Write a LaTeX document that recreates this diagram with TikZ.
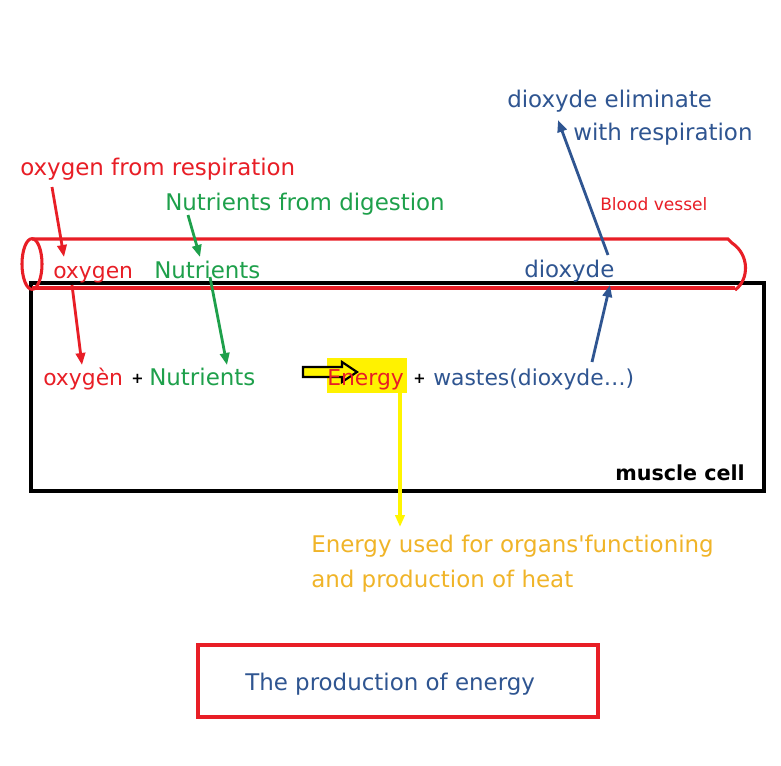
\documentclass[tikz,border=0pt]{standalone}
\usepackage{fontspec}
\setmainfont{DejaVu Sans}[Ligatures=TeXOff]
\usetikzlibrary{arrows.meta}
\definecolor{cred}{RGB}{232,30,38}
\definecolor{cgreen}{RGB}{30,160,75}
\definecolor{cblue}{RGB}{47,85,145}
\definecolor{corange}{RGB}{240,180,40}
\definecolor{cyel}{RGB}{255,245,0}
\begin{document}
\begin{tikzpicture}[x=0.75pt,y=-0.75pt,
  txt/.style={inner sep=0pt, anchor=base west, font=\fontsize{17.2}{20}\selectfont},
  txtb/.style={inner sep=0pt, anchor=base west, font=\fontsize{16.4}{20}\selectfont},
  small/.style={inner sep=0pt, anchor=base west, font=\fontsize{12.8}{15}\selectfont},
  plus/.style={inner sep=0pt, anchor=base west, font=\fontsize{11}{13}\selectfont\bfseries},
  arr/.style={line width=2.1pt, -{Triangle[length=9pt,width=7pt]}},
]
\useasboundingbox (0,0) rectangle (781,765);
\fill[white] (0,0) rectangle (781,765);
% muscle cell box
\draw[line width=2.4pt, black] (31,283) rectangle (764,491);
% blood vessel
\draw[cred, line width=2.3pt] (32,239) -- (728,239) -- (732,243)
  .. controls (750,255) and (749,280) .. (735,290);
\draw[cred, line width=2.3pt] (735,288) -- (32,288);
\draw[cred, line width=2.3pt] (32,264) ellipse [x radius=7.5pt, y radius=19pt];
% highlight and hollow arrow
\fill[yellow] (327,358) rectangle (407,393);
\draw[black, line width=1.6pt, fill=cyel] (303,367) -- (342,367) -- (342,362) -- (357,372)
  -- (342,382) -- (342,377) -- (303,377) -- cycle;
% texts
\node[txt, text=cred] (resp) at (20,175) {oxygen from respiration};
\node[txt, text=cgreen] (dig) at (165,210) {Nutrients from digestion};
\node[txt, text=cblue] (elim1) at (507,107) {dioxyde eliminate};
\node[txt, text=cblue] (elim2) at (573,140) {with respiration};
\node[small, text=cred] (bv) at (600,210) {Blood vessel};
\node[txtb, text=cred] (ox1) at (53,278) {oxygen};
\node[txt, text=cgreen] (nu1) at (154,278) {Nutrients};
\node[txt, text=cblue] (di1) at (524,277) {dioxyde};
\node[txtb, text=cred] (ox2) at (43,385) {oxygèn};
\node[plus] (p1) at (131,383) {+};
\node[txt, text=cgreen] (nu2) at (149,385) {Nutrients};
\node[txtb, text=cred] (en) at (327,385) {Energy};
\node[plus] (p2) at (413,383) {+};
\node[txtb, text=cblue] (wa) at (433,385) {wastes(dioxyde…)};
\node[txt, font=\fontsize{15.5}{18}\selectfont\bfseries] (mc) at (615,480) {muscle cell};
\node[txt, text=corange] (eu1) at (311,552) {Energy used for organs'functioning};
\node[txt, text=corange] (eu2) at (311,587) {and production of heat};
\draw[cred, line width=2.4pt] (198,645) rectangle (598,717);
\node[txt, text=cblue] (title) at (245,690) {The production of energy};
% arrow end points
\coordinate (a1s) at (52,187); \coordinate (a1e) at (64,257);
\coordinate (a2s) at (188,215); \coordinate (a2e) at (200,257);
\coordinate (a3s) at (72,285); \coordinate (a3e) at (82,365);
\coordinate (a4s) at (210,277); \coordinate (a4e) at (227,365);
\coordinate (a5s) at (592,362); \coordinate (a5e) at (610,285);
\coordinate (a6s) at (608,255); \coordinate (a6e) at (558,120);
\coordinate (a7s) at (400,393); \coordinate (a7e) at (400,527);
\draw[arr, cred] (a1s) -- (a1e);
\draw[arr, cgreen] (a2s) -- (a2e);
\draw[arr, cred] (a3s) -- (a3e);
\draw[arr, cgreen] (a4s) -- (a4e);
\draw[arr, cblue] (a5s) -- (a5e);
\draw[arr, cblue] (a6s) -- (a6e);
\draw[arr, cyel, line width=2.4pt] (a7s) -- (a7e);
\end{tikzpicture}
\end{document}
